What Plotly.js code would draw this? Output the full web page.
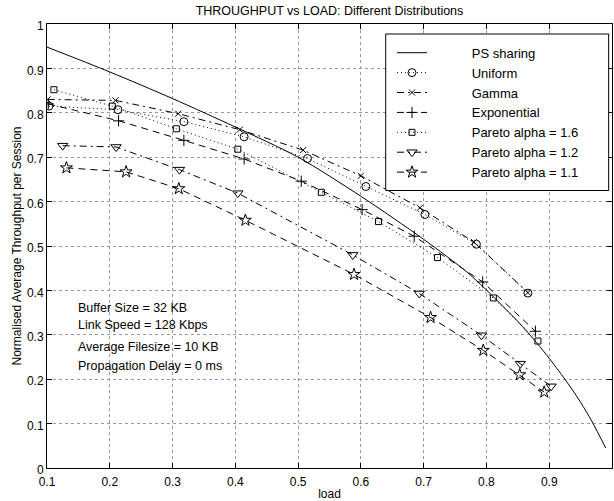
<!DOCTYPE html>
<html><head><meta charset="utf-8">
<script src="https://cdn.plot.ly/plotly-3.0.1.min.js"></script>
<style>html,body{margin:0;padding:0;background:#fff}</style>
</head><body><div id="chart" style="width:614px;height:501px"></div>
<script>
// ---- data ----
const psLoad = [0.1, 0.2, 0.3, 0.4, 0.5, 0.6, 0.7, 0.77, 0.81, 0.85, 0.88, 0.9, 0.93, 0.95, 0.968, 0.99];
const psThr  = [0.948, 0.892, 0.832, 0.768, 0.70, 0.612, 0.515, 0.44, 0.387, 0.33, 0.282, 0.247, 0.19, 0.148, 0.105, 0.045];

const uniLoad = [0.103, 0.213, 0.318, 0.414, 0.515, 0.608, 0.702, 0.784, 0.866];
const uniThr  = [0.815, 0.807, 0.780, 0.746, 0.697, 0.634, 0.571, 0.504, 0.394];

const gamLoad = [0.101, 0.209, 0.309, 0.407, 0.508, 0.600, 0.694, 0.780, 0.866];
const gamThr  = [0.830, 0.828, 0.798, 0.762, 0.716, 0.658, 0.586, 0.509, 0.395];

const expLoad = [0.102, 0.214, 0.318, 0.414, 0.505, 0.602, 0.685, 0.794, 0.878];
const expThr  = [0.820, 0.782, 0.738, 0.696, 0.646, 0.582, 0.522, 0.419, 0.308];

const p16Load = [0.111, 0.204, 0.306, 0.404, 0.537, 0.628, 0.722, 0.811, 0.882];
const p16Thr  = [0.852, 0.815, 0.764, 0.718, 0.621, 0.555, 0.474, 0.383, 0.286];

const p12Load = [0.125, 0.210, 0.311, 0.404, 0.587, 0.693, 0.792, 0.854, 0.903];
const p12Thr  = [0.726, 0.723, 0.672, 0.619, 0.480, 0.393, 0.299, 0.235, 0.184];

const p11Load = [0.131, 0.226, 0.310, 0.416, 0.589, 0.711, 0.795, 0.853, 0.892];
const p11Thr  = [0.676, 0.667, 0.629, 0.558, 0.436, 0.339, 0.265, 0.210, 0.171];

const seriesNames = ['PS sharing', 'Uniform', 'Gamma', 'Exponential',
  'Pareto alpha = 1.6', 'Pareto alpha = 1.2', 'Pareto alpha = 1.1'];
const notes = ['Buffer Size = 32 KB', 'Link Speed = 128 Kbps',
  'Average Filesize = 10 KB', 'Propagation Delay = 0 ms'];
const xTicks = [0.1, 0.2, 0.3, 0.4, 0.5, 0.6, 0.7, 0.8, 0.9, 1];
const yTicks = [0, 0.1, 0.2, 0.3, 0.4, 0.5, 0.6, 0.7, 0.8, 0.9, 1];

// ---- styling ----
const FONT = 'Liberation Sans, Arial, Helvetica, sans-serif';
const pad = '\u00a0'.repeat(11);
const DASH = '7px,5px', DOT = '1px,3px', DASHDOT = '7px,4px,2px,4px';

function tr(x, y, name, dash, symbol, size, shape) {
  const t = {
    x: x, y: y, name: pad + name, type: 'scatter',
    mode: symbol ? 'lines+markers' : 'lines',
    line: {color: '#000', width: 1, dash: dash, shape: shape || 'linear', smoothing: 0.8}
  };
  if (symbol) t.marker = {symbol: symbol, size: size, color: '#000', line: {color: '#000', width: 1}};
  return t;
}

const data = [
  tr(psLoad, psThr, seriesNames[0], 'solid', null, 0, 'spline'),
  tr(uniLoad, uniThr, seriesNames[1], DOT, 'circle-open', 8),
  tr(gamLoad, gamThr, seriesNames[2], DASHDOT, 'x-thin-open', 6),
  tr(expLoad, expThr, seriesNames[3], DASH, 'cross-thin-open', 8),
  tr(p16Load, p16Thr, seriesNames[4], DOT, 'square-open', 6),
  tr(p12Load, p12Thr, seriesNames[5], DASHDOT, 'triangle-down-open', 9),
  tr(p11Load, p11Thr, seriesNames[6], DASH, 'star-open', 9)
];

const noteY = [0.361, 0.322, 0.273, 0.230];
const annotations = notes.map((t, i) => ({
  text: t, xref: 'paper', yref: 'paper', x: 0.0513, y: noteY[i],
  xanchor: 'left', yanchor: 'middle', showarrow: false,
  font: {family: FONT, size: 12.5, color: '#000'}
}));

const axisCommon = {
  showline: true, linecolor: '#000', linewidth: 1, mirror: 'ticks',
  ticks: 'inside', ticklen: 5, tickwidth: 1, tickcolor: '#000',
  showgrid: true, gridcolor: '#999', gridwidth: 1, griddash: 'dot',
  zeroline: false, tickfont: {family: FONT, size: 12, color: '#000'}
};

const layout = {
  width: 614, height: 501,
  margin: {l: 47, r: 2, t: 24, b: 33},
  paper_bgcolor: '#fff', plot_bgcolor: '#fff',
  font: {family: FONT, color: '#000'},
  title: {text: 'THROUGHPUT vs LOAD: Different Distributions',
    font: {family: FONT, size: 12.5, color: '#000'},
    xref: 'paper', x: 0.5, xanchor: 'center', yref: 'container', y: 0.978, yanchor: 'middle'},
  xaxis: Object.assign({}, axisCommon, {
    range: [0.1, 1], tickvals: xTicks, ticktext: xTicks.map(String),
    ticklabelstandoff: 3,
    title: {text: 'load', font: {family: FONT, size: 12, color: '#000'}, standoff: 2}
  }),
  yaxis: Object.assign({}, axisCommon, {
    range: [0, 1], tickvals: yTicks, ticktext: yTicks.map(String),
    ticklabelshift: 2,
    title: {text: 'Normalised Average Throughput per Session', font: {family: FONT, size: 12, color: '#000'}, standoff: 2}
  }),
  showlegend: true,
  legend: {
    x: 0.6106, y: 0.969, xanchor: 'left', yanchor: 'top',
    bgcolor: 'rgba(0,0,0,0)', borderwidth: 0,
    font: {family: FONT, size: 13, color: '#000'}
  },
  shapes: [{
    type: 'rect', xref: 'paper', yref: 'paper', layer: 'above',
    x0: 0.5995, x1: 0.9941, y0: 0.625, y1: 0.9775,
    line: {color: '#000', width: 1}, fillcolor: '#fff'
  }],
  annotations: annotations
};

Plotly.newPlot('chart', data, layout, {displayModeBar: false, staticPlot: true});
</script>
</body></html>
